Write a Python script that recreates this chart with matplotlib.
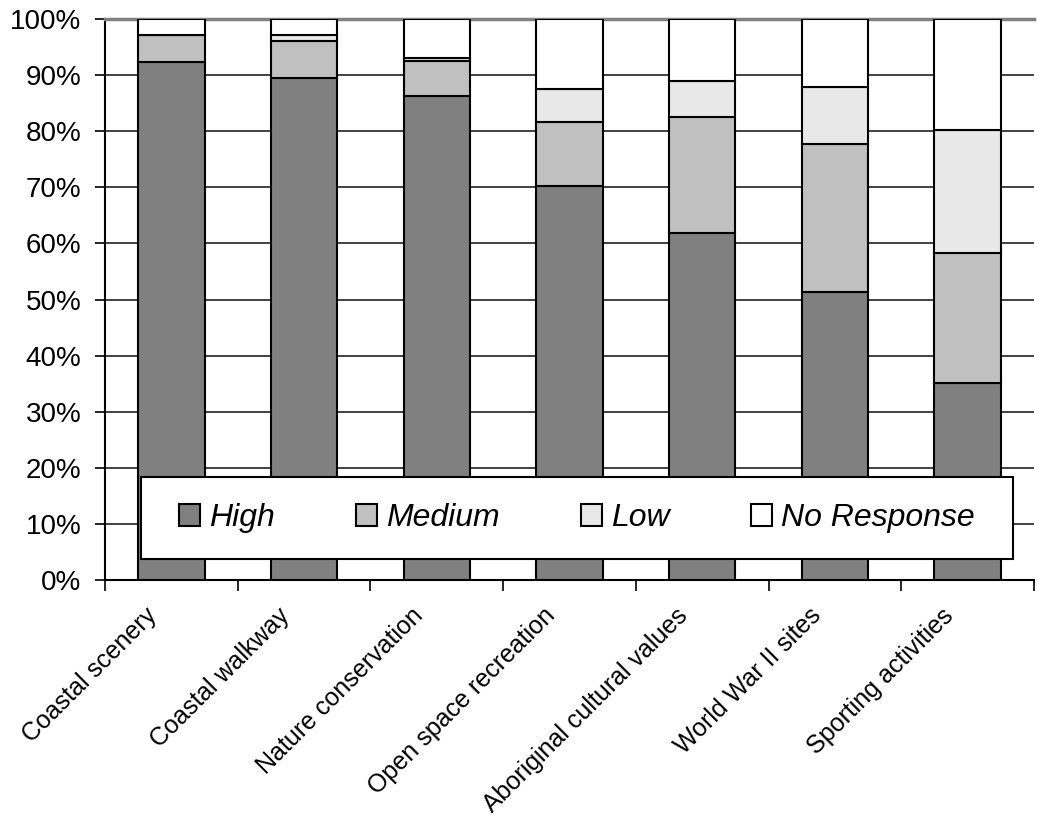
import matplotlib.pyplot as plt
import matplotlib.patches as mpatches
from matplotlib.transforms import ScaledTranslation
import numpy as np

plt.rcParams['font.family'] = ['Liberation Sans', 'DejaVu Sans']

categories = ["Coastal scenery", "Coastal walkway", "Nature conservation",
              "Open space recreation", "Aboriginal cultural values",
              "World War II sites", "Sporting activities"]
high = [92.4, 89.5, 86.3, 70.3, 61.8, 51.4, 35.1]
medium = [4.7, 6.5, 6.3, 11.4, 20.7, 26.4, 23.1]
low = [0.0, 1.1, 0.5, 5.8, 6.4, 10.0, 22.1]
no_response = [2.9, 2.9, 6.9, 12.5, 11.1, 12.2, 19.7]

series = [("High", high, "#808080"),
          ("Medium", medium, "#c0c0c0"),
          ("Low", low, "#e8e8e8"),
          ("No Response", no_response, "#ffffff")]

fig = plt.figure(figsize=(10.37, 8.24), dpi=100)
ax = fig.add_axes([105 / 1037, 1 - 580 / 824, 929 / 1037, 561 / 824])

x = np.arange(len(categories))
bottom = np.zeros(len(categories))
handles = []
for name, vals, col in series:
    b = ax.bar(x, vals, width=0.5, bottom=bottom, color=col, edgecolor="black",
               linewidth=1.5, zorder=3, label=name)
    bottom += np.array(vals)
    handles.append(b)

# axes and grid
ax.set_xlim(-0.5, len(categories) - 0.5)
ax.set_ylim(0, 100)
ax.set_yticks(np.arange(0, 101, 10))
ax.set_yticklabels([f"{v}%" for v in range(0, 101, 10)], fontsize=20)
ax.yaxis.grid(True, color="#222222", linewidth=1.2, zorder=0)
ax.tick_params(axis="y", length=7, width=1.2, pad=10)

ax.set_xticks(x)
ax.set_xticklabels(categories, fontsize=18, rotation=45, ha="right",
                   va="center", rotation_mode="anchor")
ax.set_xticks(np.arange(-0.5, len(categories), 1), minor=True)
ax.tick_params(axis="x", which="major", length=0, pad=23)
ax.tick_params(axis="x", which="minor", length=8, width=1.2)
shift = ScaledTranslation(-18 / 100, 0, fig.dpi_scale_trans)
for lbl in ax.get_xticklabels():
    lbl.set_transform(lbl.get_transform() + shift)

for s in ["left", "bottom"]:
    ax.spines[s].set_linewidth(1.5)
ax.spines["top"].set_color("#808080")
ax.spines["top"].set_linewidth(2.5)
ax.spines["right"].set_visible(False)

# legend box
box = mpatches.Rectangle((36 / 929, 21 / 561), 872 / 929, 82 / 561,
                         transform=ax.transAxes, facecolor="white",
                         edgecolor="black", linewidth=1.5, zorder=5)
ax.add_patch(box)
leg = ax.legend(handles=handles, loc="center",
                bbox_to_anchor=((36 + 872 / 2) / 929, (21 + 82 / 2) / 561),
                ncol=4, frameon=False, prop={"size": 23, "style": "italic"},
                handlelength=0.66, handleheight=0.66, handletextpad=0.28,
                columnspacing=2.55)
leg.set_zorder(6)

fig.savefig("out.png", dpi=100)
